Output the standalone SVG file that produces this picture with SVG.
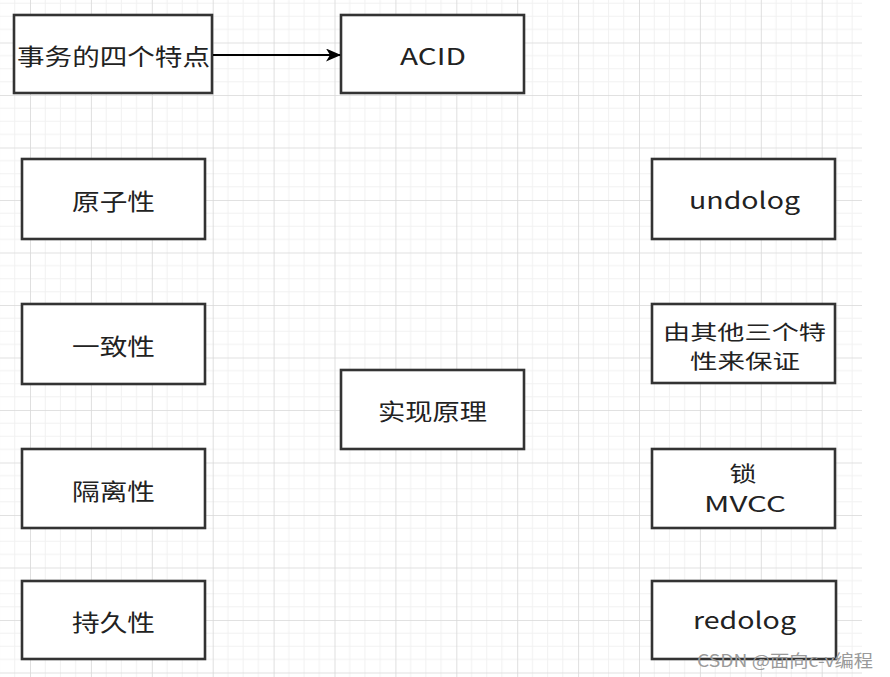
<svg xmlns="http://www.w3.org/2000/svg" width="890" height="677" viewBox="0 0 890 677">
<style>
.box{fill:#fff;stroke:#333;stroke-width:2.6}
.t{font-family:"Noto Sans CJK SC","Noto Sans",sans-serif;font-size:23px;fill:#222;text-anchor:middle;dominant-baseline:central}
.t2{font-size:21px}
.t3{font-size:20px}
.wm{font-family:"Noto Sans CJK SC","Noto Sans",sans-serif;font-size:17px;fill:#9a9a9a}
.conn{stroke:#000;stroke-width:2;fill:none}
</style>
<defs>
<pattern id="grid" patternUnits="userSpaceOnUse" x="30" y="-10" width="60.9" height="52.5">
<path d="M15.225 0V52.5M30.45 0V52.5M45.675 0V52.5M0 13.125H60.9M0 26.25H60.9M0 39.375H60.9" stroke="#f1f1f1" stroke-width="1" fill="none"/>
<path d="M0 0V52.5M0 0H60.9" stroke="#d8d8d8" stroke-width="1.6" fill="none"/>
</pattern>
<marker id="arr" markerWidth="15" markerHeight="13" refX="14" refY="6.5" orient="auto" markerUnits="userSpaceOnUse">
<path d="M0 0L15 6.5L0 13L4 6.5Z" fill="#000"/>
</marker>
</defs>
<rect x="0" y="0" width="890" height="677" fill="#fff"/>
<rect x="0" y="0" width="862" height="677" fill="url(#grid)"/>

<g id="n-features"><rect class="box" x="14" y="15" width="198" height="78"/><text class="t" x="113.5" y="55" textLength="193" lengthAdjust="spacingAndGlyphs">事务的四个特点</text></g>
<g id="n-acid"><rect class="box" x="341" y="15" width="183" height="78"/><text class="t" x="433" y="55" textLength="66" lengthAdjust="spacingAndGlyphs">ACID</text></g>
<g id="n-atomic"><rect class="box" x="22" y="159" width="183" height="80"/><text class="t" x="113.5" y="200" textLength="83" lengthAdjust="spacingAndGlyphs">原子性</text></g>
<g id="n-consistent"><rect class="box" x="22" y="304" width="183" height="80"/><text class="t" x="113.5" y="345" textLength="83" lengthAdjust="spacingAndGlyphs">一致性</text></g>
<g id="n-isolation"><rect class="box" x="22" y="449" width="183" height="79"/><text class="t" x="113.5" y="490" textLength="83" lengthAdjust="spacingAndGlyphs">隔离性</text></g>
<g id="n-durable"><rect class="box" x="22" y="581" width="183" height="78"/><text class="t" x="113.5" y="621" textLength="83" lengthAdjust="spacingAndGlyphs">持久性</text></g>
<g id="n-impl"><rect class="box" x="341" y="370" width="183" height="79"/><text class="t" x="432.5" y="410" textLength="109" lengthAdjust="spacingAndGlyphs">实现原理</text></g>
<g id="n-undolog"><rect class="box" x="652" y="159" width="183" height="80"/><text class="t" x="744.5" y="199" textLength="111" lengthAdjust="spacingAndGlyphs">undolog</text></g>
<g id="n-others"><rect class="box" x="652" y="304" width="183" height="79"/><text class="t t3" x="744.5" y="331" textLength="163" lengthAdjust="spacingAndGlyphs">由其他三个特</text><text class="t t3" x="745" y="360" textLength="110" lengthAdjust="spacingAndGlyphs">性来保证</text></g>
<g id="n-lock"><rect class="box" x="652" y="449" width="183" height="79"/><text class="t t2" x="743" y="472" textLength="27" lengthAdjust="spacingAndGlyphs">锁</text><text class="t t2" x="745" y="503" textLength="82" lengthAdjust="spacingAndGlyphs">MVCC</text></g>
<g id="n-redolog"><rect class="box" x="652" y="581" width="184" height="78"/><text class="t" x="744.5" y="619" textLength="103" lengthAdjust="spacingAndGlyphs">redolog</text></g>

<g id="connectors"><line class="conn" x1="213" y1="55" x2="340" y2="55" marker-end="url(#arr)"/></g>

<text class="wm" x="697" y="667" textLength="176" lengthAdjust="spacingAndGlyphs">CSDN @面向c-v编程</text>
</svg>
